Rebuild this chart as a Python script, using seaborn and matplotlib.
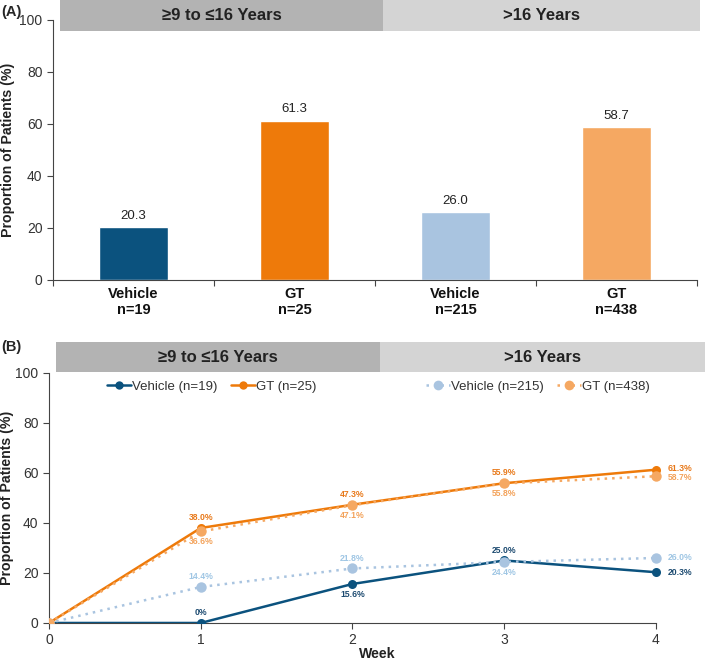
import pandas as pd
import matplotlib.pyplot as plt
import seaborn as sns
from matplotlib.lines import Line2D
from matplotlib.patches import Rectangle

# ---- data ----
bar_labels = ['Vehicle\nn=19', 'GT\nn=25', 'Vehicle\nn=215', 'GT\nn=438']
bar_values = [20.3, 61.3, 26.0, 58.7]

weeks = [0, 1, 2, 3, 4]
veh_young = [0, 0, 15.6, 25.0, 20.3]
gt_young = [0, 38.0, 47.3, 55.9, 61.3]
veh_old = [0, 14.4, 21.8, 24.4, 26.0]
gt_old = [0, 36.6, 47.1, 55.8, 58.7]

group_names = ['\u22659 to \u226416 Years', '>16 Years']

c_dark_blue = '#0b527e'
c_orange = '#ee7a0a'
c_light_blue = '#a9c4e0'
c_light_orange = '#f5a862'
c_hdr_dark = '#b3b3b3'
c_hdr_light = '#d4d4d4'

sns.set_style('ticks')
plt.rcParams['font.family'] = ['Liberation Sans', 'DejaVu Sans']

fig = plt.figure(figsize=(7.09, 6.6), dpi=100)
ax1 = fig.add_axes([0.0748, 0.5758, 0.9082, 0.3939])
ax2 = fig.add_axes([0.0691, 0.0561, 0.9252, 0.3788])

# ---- Panel A ----
df_bar = pd.DataFrame({'group': bar_labels, 'value': bar_values})
sns.barplot(data=df_bar, x='group', y='value', hue='group',
            palette=[c_dark_blue, c_orange, c_light_blue, c_light_orange],
            width=0.43, legend=False, ax=ax1, saturation=1)
for i, v in enumerate(bar_values):
    ax1.text(i, v + 2, f'{v:.1f}', ha='center', va='bottom', fontsize=9.5, color='#222222')

ax1.set_xlim(-0.5, 3.5)
ax1.set_ylim(0, 100)
ax1.set_yticks([0, 20, 40, 60, 80, 100])
ax1.set_xticks([-0.5, 0.5, 1.5, 2.5, 3.5])
ax1.set_xticklabels([])
ax1.set_xticks(range(4), minor=True)
ax1.set_xticklabels(bar_labels, minor=True, fontweight='bold', fontsize=10.5, color='#111111')
ax1.tick_params(axis='x', which='minor', length=0, pad=5)
ax1.tick_params(axis='x', which='major', length=4, color='#444444')
ax1.tick_params(axis='y', labelsize=10, length=4, color='#444444', labelcolor='#333333')
ax1.set_xlabel('')
ax1.set_ylabel('Proportion of Patients (%)', fontweight='bold', fontsize=10.2,
               color='#222222', labelpad=3)
for s in ['top', 'right']:
    ax1.spines[s].set_visible(False)
for s in ['left', 'bottom']:
    ax1.spines[s].set_color('#444444')

# header bands panel A
ax1.add_patch(Rectangle((-0.457, 95.8), 2.007, 11.9, facecolor=c_hdr_dark,
                        edgecolor='none', clip_on=False, zorder=0))
ax1.add_patch(Rectangle((1.55, 95.8), 1.97, 11.9, facecolor=c_hdr_light,
                        edgecolor='none', clip_on=False, zorder=0))
ax1.text(0.547, 101.8, group_names[0], ha='center', va='center', fontsize=12,
         fontweight='bold', color='#222222', clip_on=False)
ax1.text(2.535, 101.8, group_names[1], ha='center', va='center', fontsize=12,
         fontweight='bold', color='#222222', clip_on=False)
fig.text(0.002, 0.982, '(A)', fontsize=10.5, fontweight='bold', va='center', ha='left')

# ---- Panel B ----
df_line = pd.DataFrame({'week': weeks, 'veh_young': veh_young, 'gt_young': gt_young,
                        'veh_old': veh_old, 'gt_old': gt_old})
sns.lineplot(data=df_line, x='week', y='veh_young', color=c_dark_blue, linewidth=1.8,
             marker='o', markersize=6.5, markeredgewidth=0, ax=ax2, zorder=3)
sns.lineplot(data=df_line, x='week', y='gt_young', color=c_orange, linewidth=1.8,
             marker='o', markersize=6.5, markeredgewidth=0, ax=ax2, zorder=3)
sns.lineplot(data=df_line, x='week', y='veh_old', color=c_light_blue, linewidth=1.8,
             linestyle=(0, (1, 2)), marker='o', markersize=7.5, markeredgewidth=0,
             ax=ax2, zorder=4)
sns.lineplot(data=df_line, x='week', y='gt_old', color=c_light_orange, linewidth=1.8,
             linestyle=(0, (1, 2)), marker='o', markersize=7.5, markeredgewidth=0,
             ax=ax2, zorder=4)

lab_kw = dict(fontsize=6.2, fontweight='bold', ha='center')
t_dark_blue = '#1c4a70'
t_orange = '#e8791a'
t_light_blue = '#9fc6e4'
t_light_orange = '#f3a25a'
# above / below labels for weeks 1-3
for w in [1, 2, 3]:
    ax2.text(w, gt_young[w] + 2.3, f'{gt_young[w]:.1f}%', color=t_orange, va='bottom', **lab_kw)
    ax2.text(w, gt_old[w] - 2.3, f'{gt_old[w]:.1f}%', color=t_light_orange, va='top', **lab_kw)
ax2.text(1, veh_young[1] + 2.3, '0%', color=t_dark_blue, va='bottom', **lab_kw)
ax2.text(2, veh_young[2] - 2.3, f'{veh_young[2]:.1f}%', color=t_dark_blue, va='top', **lab_kw)
ax2.text(3, veh_young[3] + 2.3, f'{veh_young[3]:.1f}%', color=t_dark_blue, va='bottom', **lab_kw)
ax2.text(1, veh_old[1] + 2.3, f'{veh_old[1]:.1f}%', color=t_light_blue, va='bottom', **lab_kw)
ax2.text(2, veh_old[2] + 2.3, f'{veh_old[2]:.1f}%', color=t_light_blue, va='bottom', **lab_kw)
ax2.text(3, veh_old[3] - 2.3, f'{veh_old[3]:.1f}%', color=t_light_blue, va='top', **lab_kw)
# right side labels at week 4
side_kw = dict(fontsize=6.2, fontweight='bold', ha='left', va='center')
ax2.text(4.08, gt_young[4] + 0.3, f'{gt_young[4]:.1f}%', color=t_orange, **side_kw)
ax2.text(4.08, gt_old[4] - 0.5, f'{gt_old[4]:.1f}%', color=t_light_orange, **side_kw)
ax2.text(4.08, veh_old[4], f'{veh_old[4]:.1f}%', color=t_light_blue, **side_kw)
ax2.text(4.08, veh_young[4], f'{veh_young[4]:.1f}%', color=t_dark_blue, **side_kw)

ax2.set_xlim(0, 4.323)
ax2.set_ylim(0, 100)
ax2.set_xticks([0, 1, 2, 3, 4])
ax2.set_yticks([0, 20, 40, 60, 80, 100])
ax2.spines['bottom'].set_bounds(0, 4)
for s in ['top', 'right']:
    ax2.spines[s].set_visible(False)
for s in ['left', 'bottom']:
    ax2.spines[s].set_color('#444444')
ax2.tick_params(labelsize=10, length=4, color='#444444', labelcolor='#333333')
ax2.set_xlabel('Week', fontweight='bold', fontsize=10.2, color='#222222', labelpad=0)
ax2.set_ylabel('Proportion of Patients (%)', fontweight='bold', fontsize=10.2,
               color='#222222', labelpad=1)

# header bands panel B
ax2.add_patch(Rectangle((0.046, 100.2), 2.134, 12.2, facecolor=c_hdr_dark,
                        edgecolor='none', clip_on=False, zorder=0))
ax2.add_patch(Rectangle((2.18, 100.2), 2.143, 12.2, facecolor=c_hdr_light,
                        edgecolor='none', clip_on=False, zorder=0))
ax2.text(1.113, 106.3, group_names[0], ha='center', va='center', fontsize=12,
         fontweight='bold', color='#222222', clip_on=False)
ax2.text(3.25, 106.3, group_names[1], ha='center', va='center', fontsize=12,
         fontweight='bold', color='#222222', clip_on=False)
fig.text(0.002, 0.474, '(B)', fontsize=10.5, fontweight='bold', va='center', ha='left')

# legends
h_young = [Line2D([], [], color=c_dark_blue, lw=1.8, marker='o', ms=6, mew=0),
           Line2D([], [], color=c_orange, lw=1.8, marker='o', ms=6, mew=0)]
h_old = [Line2D([], [], color=c_light_blue, lw=1.8, ls=(0, (1, 2)), marker='o', ms=7, mew=0),
         Line2D([], [], color=c_light_orange, lw=1.8, ls=(0, (1, 2)), marker='o', ms=7, mew=0)]
leg1 = ax2.legend(h_young, ['Vehicle (n=19)', 'GT (n=25)'], ncol=2, frameon=False,
                  loc='center', bbox_to_anchor=(0.248, 0.945), fontsize=9.5,
                  handlelength=1.8, handletextpad=0.1, columnspacing=1.0,
                  labelcolor='#333333')
ax2.add_artist(leg1)
ax2.legend(h_old, ['Vehicle (n=215)', 'GT (n=438)'], ncol=2, frameon=False,
           loc='center', bbox_to_anchor=(0.745, 0.945), fontsize=9.5,
           handlelength=1.8, handletextpad=0.1, columnspacing=1.0,
           labelcolor='#333333')

fig.savefig('out.png', dpi=100)
